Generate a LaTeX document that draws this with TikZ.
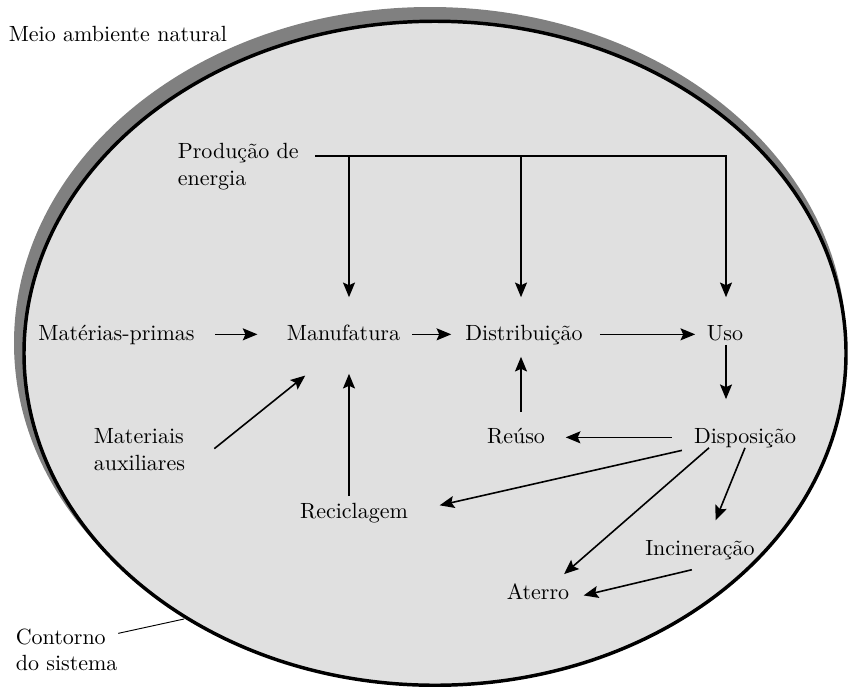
\documentclass[tikz,border=0pt]{standalone}
\usepackage{fontspec}
\setmainfont{lmroman10-regular.otf}
\usetikzlibrary{arrows.meta}
\definecolor{sombra}{gray}{0.5}
\definecolor{fundo}{gray}{0.88}
\tikzset{
  lbl/.style={inner sep=0pt,anchor=base,text height=11.5pt,text depth=3pt},
  lbl2/.style={inner sep=0pt,align=left,anchor=north west},
}

\begin{document}
\begin{tikzpicture}[x=0.75pt,y=-0.75pt,line width=1.2pt,>={Stealth[length=11pt,width=9pt,inset=2pt]},every node/.style={font=\fontsize{16.5}{20}\selectfont}]
\useasboundingbox (0,0) rectangle (848,689);
% meio ambiente e contorno
\fill[sombra] (430,343) ellipse [x radius=416, y radius=336];
\filldraw[fill=fundo,line width=2.6pt] (435,353.25) ellipse [x radius=411, y radius=332];
\node[inner sep=0pt,anchor=base west] (meio) at (8,41) {Meio ambiente natural};
\node[lbl2] (contorno) at (15,628) {Contorno\\do sistema};
\coordinate (borda) at (184,619);
\draw[line width=0.7pt] ([yshift=-4pt]contorno.north east) -- (borda);
% etapas
\node[lbl2] (energia) at (177,142.5) {Produção de\\energia};
\node[lbl] (mat) at (116.5,340) {Matérias-primas};
\node[lbl] (manuf) at (343.5,340) {Manufatura};
\node[lbl] (dist) at (524,340) {Distribuição};
\node[lbl] (uso) at (725,340) {Uso};
\node[lbl2] (aux) at (93,428) {Materiais\\auxiliares};
\node[lbl] (reuso) at (516,443) {Reúso};
\node[lbl] (disp) at (745,443) {Disposição};
\node[lbl] (recicl) at (354,518) {Reciclagem};
\node[lbl] (incin) at (700,555) {Incineração};
\node[lbl] (aterro) at (538,599) {Aterro};
% energia
\coordinate (bus) at (315,156);
\coordinate (b1) at (349,156);
\coordinate (b2) at (521,156);
\coordinate (b3) at (726,156);
\draw[->,shorten >=20pt] (bus) -- (b3) -- (b3 |- uso.north);
\draw[->,shorten >=20pt] (b1) -- (b1 |- manuf.north);
\draw[->,shorten >=20pt] (b2) -- (b2 |- dist.north);
% fluxos
\draw[->,shorten <=15pt,shorten >=21.5pt] (mat) -- (manuf);
\draw[->,shorten <=8.7pt,shorten >=10pt] (manuf) -- (dist);
\draw[->,shorten <=12.3pt,shorten >=8.2pt] (dist) -- (uso);
\draw[->,shorten >=20.8pt] (b3 |- uso.south) -- (b3 |- disp.north);
\draw[->,shorten <=16pt,shorten >=15pt] (disp) -- (reuso);
\draw[->,shorten <=11pt,shorten >=9pt] (reuso.north -| b2) -- (dist.south -| b2);
\draw[->,shorten <=8.7pt,shorten >=23.8pt] (disp.south west) -- (recicl.east);
\draw[->,shorten <=4.3pt,shorten >=21.75pt] (recicl.north -| b1) -- (manuf.south -| b1);
\draw[->,shorten <=27.4pt,shorten >=36.8pt] (aux.south east) -- (manuf.south);
\draw[->,shorten >=15pt] (disp.south) -- ([xshift=6pt]incin.north);
\draw[->,shorten >=10pt] ([xshift=-27pt]disp.south) -- ([xshift=12pt]aterro.north);
\draw[->,shorten <=6.3pt,shorten >=10.5pt] ([yshift=-6pt]incin.south) -- ([yshift=-4pt]aterro.east);
\end{tikzpicture}
\end{document}
